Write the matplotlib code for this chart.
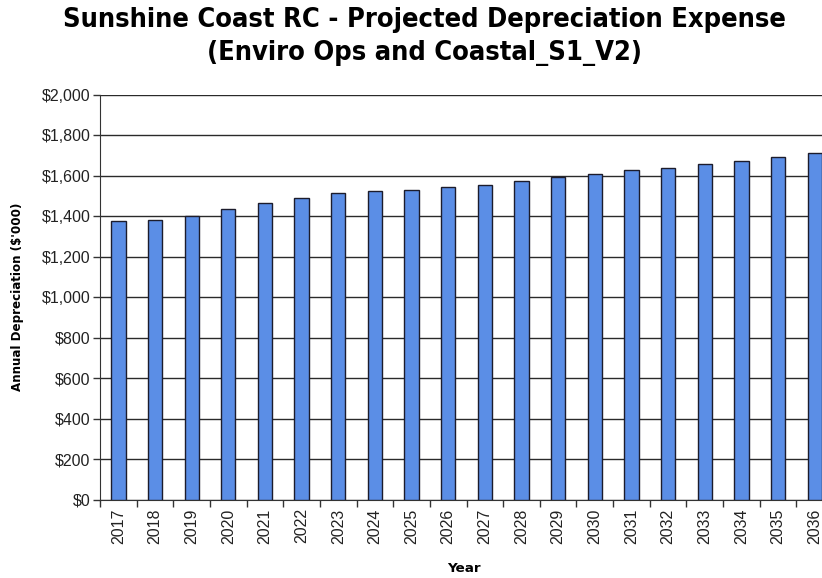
import numpy as np
import matplotlib.pyplot as plt
from matplotlib.ticker import FuncFormatter, MultipleLocator

years = [str(y) for y in range(2017, 2037)]
depreciation = [1378, 1384, 1400, 1436, 1467, 1491, 1516, 1527, 1533, 1545,
                1556, 1575, 1594, 1610, 1628, 1640, 1658, 1676, 1694, 1712]

fig = plt.figure(figsize=(8.22, 5.78), dpi=100)
ax = fig.add_axes([0.1217, 0.135, 0.8917, 0.7007])

x = np.arange(len(years))
ax.bar(x, depreciation, width=0.39, color='#5b8ee6', edgecolor='#1c1c2c',
       linewidth=1.0, zorder=3)

ax.set_xlim(-0.5, len(years) - 0.5)
ax.set_ylim(0, 2000)
ax.yaxis.set_major_locator(MultipleLocator(200))
ax.yaxis.set_major_formatter(FuncFormatter(lambda v, p: f"${v:,.0f}"))
ax.grid(axis='y', color='#2a2a2a', linewidth=1.0, zorder=1)

ax.set_xticks(x)
ax.set_xticklabels(years, rotation=90, family='Liberation Sans', fontsize=11.5)
ax.set_xticks(np.arange(-0.5, len(years)), minor=True)
ax.tick_params(axis='x', which='major', length=0, pad=6)
ax.tick_params(axis='x', which='minor', length=5, width=1, color='#333333')
ax.tick_params(axis='y', length=5, width=1, color='#333333', pad=2)
for lbl in ax.get_yticklabels():
    lbl.set_family('Liberation Sans')
    lbl.set_fontsize(11.5)
    lbl.set_color('#222222')
for lbl in ax.get_xticklabels():
    lbl.set_color('#222222')

for side in ('top', 'right'):
    ax.spines[side].set_visible(False)
ax.spines['left'].set_color('#333333')
ax.spines['bottom'].set_color('#333333')

fig.text(18 / 822, 1 - 297 / 578, "Annual Depreciation ($'000)", rotation=90,
         ha='center', va='center', fontsize=8.6, fontweight='bold')
fig.text(0.565, 1 - 568 / 578, "Year", fontsize=9.7, fontweight='bold',
         ha='center', va='center')

fig.text(0.516, 0.965, "Sunshine Coast RC - Projected Depreciation Expense",
         ha='center', va='center', fontsize=19.5, fontweight='bold',
         fontstretch='condensed')
fig.text(0.516, 0.908, "(Enviro Ops and Coastal_S1_V2)",
         ha='center', va='center', fontsize=19.5, fontweight='bold',
         fontstretch='condensed')

fig.savefig('out.png', dpi=100)
